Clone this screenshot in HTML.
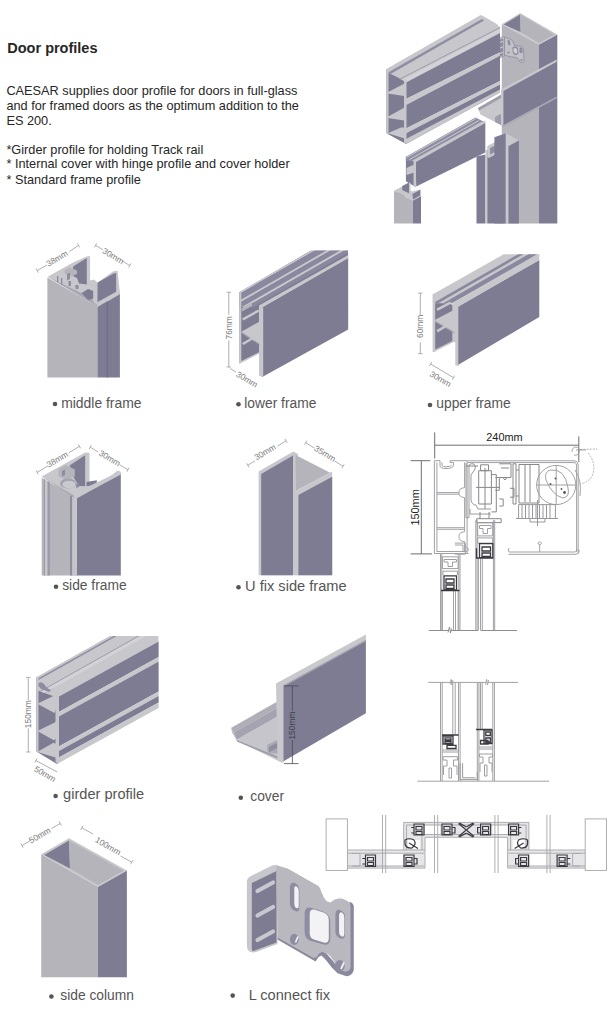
<!DOCTYPE html>
<html><head><meta charset="utf-8">
<style>
html,body{margin:0;padding:0;background:#fff;}
body{width:612px;height:1024px;overflow:hidden;position:relative;}
svg{position:absolute;left:0;top:0;}
</style></head>
<body>
<svg width="612" height="1024" viewBox="0 0 612 1024" font-family="Liberation Sans, sans-serif">
<rect width="612" height="1024" fill="#ffffff"/>
<!-- TEXT -->
<g fill="#262626">
<text transform="translate(7.3,53.1) scale(1,1.04)" font-size="14.5" font-weight="bold">Door profiles</text>
<g font-size="12.75">
<text transform="translate(6.4,95.3) scale(1,1.05)">CAESAR supplies door profile for doors in full-glass</text>
<text transform="translate(6.4,109.8) scale(1,1.05)">and for framed doors as the optimum addition to the</text>
<text transform="translate(6.4,124.5) scale(1,1.05)">ES 200.</text>
<text transform="translate(6.4,153.6) scale(1,1.05)">*Girder profile for holding Track rail</text>
<text transform="translate(6.4,168.3) scale(1,1.05)">* Internal cover with hinge profile and cover holder</text>
<text transform="translate(6.4,184.4) scale(1,1.05)">* Standard frame profile</text>
</g>
</g>
<g fill="#555" font-size="13.8">
<circle cx="55" cy="404" r="2.3"/><text x="61.2" y="407.8" font-size="13.9">middle frame</text>
<circle cx="238.5" cy="404.3" r="2.3"/><text x="244.3" y="408">lower frame</text>
<circle cx="430" cy="405" r="2.3"/><text x="436.3" y="408">upper frame</text>
<circle cx="56" cy="586.8" r="2.3"/><text x="62.2" y="590.3">side frame</text>
<circle cx="238.5" cy="587.3" r="2.3"/><text x="245" y="591" font-size="14.65">U fix side frame</text>
<circle cx="55.6" cy="796" r="2.3"/><text x="63.1" y="799.2" font-size="14.6">girder profile</text>
<circle cx="240.8" cy="797.8" r="2.3"/><text x="250.3" y="801.2">cover</text>
<circle cx="51.4" cy="996.5" r="2.3"/><text x="60.3" y="999.5">side column</text>
<circle cx="232.7" cy="995.6" r="2.3"/><text x="248.7" y="999.5" font-size="14.6">L connect fix</text>
</g>
<!-- ILLUSTRATIONS -->
<defs>
<style>
.D{fill:#7e7c93}.L{fill:#b5b4ba}.R{fill:#c8c7cc}.E{fill:#a09fab}
.dim{stroke:#9a9a9a;stroke-width:0.8;fill:none}
.dt{fill:#7a7a7a;font-size:8.4px}
</style>
</defs>

<!-- section drawing 3 -->
<g id="sec3" fill="none" stroke="#a6a6aa" stroke-width="0.9">
<g>
<path fill="#e6e6e9" stroke="none" d="M347.4,850 L425,850 L425,868.1 L347.4,868.1 Z M403.7,822.4 L466.3,822.4 L466.3,837.3 L425,837.3 L425,850 L403.7,850 Z"/>
<path fill="#fff" stroke="none" d="M385,853.5 L403,853.5 L403,866 L385,866 Z M408,840 L420,840 L420,849 L408,849 Z M425,825 L440,825 L440,835 L425,835 Z"/>
<rect x="326.1" y="818.9" width="21.3" height="51.5"/>
<path d="M347.4,850 L425,850 L425,868.1 L347.4,868.1 M347.4,853.2 L424,853.2 M347.4,866 L424,866 M382.5,815 L382.5,873 M385.7,815 L385.7,873 M434.5,815 L434.5,873 M437.7,815 L437.7,873"/>
<path d="M403.7,850 L403.7,822.4 L466.3,822.4 M406.5,850 L406.5,825 L466.3,825 M425,850 L425,837.3 L466.3,837.3 M422,850 L422,834.5 L466.3,834.5"/>
<path d="M352,853.5 L360,853.5 L360,866 L352,866"/>
<g stroke="#3a3a40" stroke-width="1.2">
<path d="M405,840 Q409,837.5 414,840 Q417,844 412,848 Q406,848.5 405,844 Z M409,843 L418,848.5"/>
<path d="M365.5,855 L375.5,855 L375.5,866.5 L365.5,866.5 Z M367.5,857.5 L373.5,857.5 L373.5,861 L367.5,861 Z M367.5,862.5 L373.5,862.5 L373.5,865.5 L367.5,865.5 Z M362.3,858.5 L365.5,858.5 L365.5,864 L362.3,864"/>
<path d="M404,855 L414,855 L414,866.5 L404,866.5 Z M406,857.5 L412,857.5 L412,861 L406,861 Z M406,862.5 L412,862.5 L412,865.5 L406,865.5 Z M414,858.5 L417,858.5 L417,864 L414,864"/>
<path d="M414,824 L424,824 L424,835 L414,835 Z M416,826.5 L422,826.5 L422,830 L416,830 Z M416,831.5 L422,831.5 L422,834.5 L416,834.5 Z M411.2,827.5 L414,827.5 L414,833 L411.2,833"/>
<path d="M442,824 L452,824 L452,835 L442,835 Z M444,826.5 L450,826.5 L450,830 L444,830 Z M444,831.5 L450,831.5 L450,834.5 L444,834.5 Z M452,827.5 L455,827.5 L455,833 L452,833"/>
<path d="M458.5,823.5 L466.3,830 L458.5,836.5 M459.5,823 L466.3,827 M459.5,837 L466.3,833"/>
</g>
</g>
<g transform="translate(932.6,0) scale(-1,1)">
<path fill="#e6e6e9" stroke="none" d="M347.4,850 L425,850 L425,868.1 L347.4,868.1 Z M403.7,822.4 L466.3,822.4 L466.3,837.3 L425,837.3 L425,850 L403.7,850 Z"/>
<path fill="#fff" stroke="none" d="M385,853.5 L403,853.5 L403,866 L385,866 Z M408,840 L420,840 L420,849 L408,849 Z M425,825 L440,825 L440,835 L425,835 Z"/>
<rect x="326.1" y="818.9" width="21.3" height="51.5"/>
<path d="M347.4,850 L425,850 L425,868.1 L347.4,868.1 M347.4,853.2 L424,853.2 M347.4,866 L424,866 M382.5,815 L382.5,873 M385.7,815 L385.7,873 M434.5,815 L434.5,873 M437.7,815 L437.7,873"/>
<path d="M403.7,850 L403.7,822.4 L466.3,822.4 M406.5,850 L406.5,825 L466.3,825 M425,850 L425,837.3 L466.3,837.3 M422,850 L422,834.5 L466.3,834.5"/>
<path d="M352,853.5 L360,853.5 L360,866 L352,866"/>
<g stroke="#3a3a40" stroke-width="1.2">
<path d="M405,840 Q409,837.5 414,840 Q417,844 412,848 Q406,848.5 405,844 Z M409,843 L418,848.5"/>
<path d="M365.5,855 L375.5,855 L375.5,866.5 L365.5,866.5 Z M367.5,857.5 L373.5,857.5 L373.5,861 L367.5,861 Z M367.5,862.5 L373.5,862.5 L373.5,865.5 L367.5,865.5 Z M362.3,858.5 L365.5,858.5 L365.5,864 L362.3,864"/>
<path d="M404,855 L414,855 L414,866.5 L404,866.5 Z M406,857.5 L412,857.5 L412,861 L406,861 Z M406,862.5 L412,862.5 L412,865.5 L406,865.5 Z M414,858.5 L417,858.5 L417,864 L414,864"/>
<path d="M414,824 L424,824 L424,835 L414,835 Z M416,826.5 L422,826.5 L422,830 L416,830 Z M416,831.5 L422,831.5 L422,834.5 L416,834.5 Z M411.2,827.5 L414,827.5 L414,833 L411.2,833"/>
<path d="M442,824 L452,824 L452,835 L442,835 Z M444,826.5 L450,826.5 L450,830 L444,830 Z M444,831.5 L450,831.5 L450,834.5 L444,834.5 Z M452,827.5 L455,827.5 L455,833 L452,833"/>
<path d="M458.5,823.5 L466.3,830 L458.5,836.5 M459.5,823 L466.3,827 M459.5,837 L466.3,833"/>
</g>
</g>
</g>
<!-- top right assembly -->
<g id="assembly">
<!-- column -->
<polygon class="L" points="501.8,24.2 539,44.4 539,223.4 501.8,223.4"/>
<polygon class="D" points="539,44.4 557.3,34.6 557.3,223.4 539,223.4"/>
<polygon class="R" points="501.8,24.2 520.1,13.1 557.3,34.6 539,44.4"/>
<polygon class="D" points="503.7,24.6 520.1,14.6 520.7,32"/>
<polygon class="L" points="520.1,14.6 554.5,34.6 539,43 520.7,32"/>
<!-- connect fix on column -->
<path fill="#c4c3c9" stroke="#8e8ca0" stroke-width="0.7" d="M497.5,39 L503.5,36.5 L504.5,38 L504.5,56 L498.5,58 L497.5,57 Z"/>
<path fill="#8e8ca0" d="M499,40 L503.3,38.3 L503.3,55.3 L499,57 Z"/>
<g stroke="#c9c8ce" stroke-width="1.3" stroke-linecap="round"><path d="M500,42.5 L502.5,41.5 M500,48 L502.5,47 M500,53.5 L502.5,52.5"/></g>
<path fill="#c2c1c7" stroke="#8e8ca0" stroke-width="0.8" d="M504.5,37 L511,39.5 Q513,40.5 513.5,43 L514.5,45.5 L521,46.5 Q523.5,47.5 523.5,50 L524,60 Q524,63.5 521,62.5 Q519,61.5 518.5,59 L516,57.5 L513,57 L511,57 L504.5,55 Z"/>
<path fill="#8e8ca0" d="M507.5,40.5 Q509,39.5 510,41 L510.5,44.5 Q509.5,46 508,44.5 Z M512.5,47.5 Q515,45.5 518,48 L518.5,53 Q517.5,56 514,54.5 L512.5,52 Z M519.5,48 Q521,47 522.5,48.5 L522.5,52.5 Q521,53.5 519.5,52.5 Z"/>
<path fill="#d0cfd4" d="M513.5,48.5 Q515,47.3 517,49 L517.3,52.5 Q516.5,54 514.5,53 L513.5,51.5 Z"/>
<circle cx="508.5" cy="52.5" r="1.1" fill="#8e8ca0"/><circle cx="521.5" cy="60" r="1.1" fill="#8e8ca0"/>
<!-- girder top-right -->
<polygon class="D" points="386.4,69.1 406,79.4 406,144.1 386.4,133.3"/>
<polygon class="R" points="386.4,69.1 480.7,15 484,16.5 496.7,24 500,27.2 500,32.9 406,82.4 397,77 386.4,72"/>
<polygon fill="#8f8da2" points="388,72.5 482,19 484,20.5 390,74.2"/>
<polygon fill="#d3d2d7" points="403,79.5 500,29 500,32 406,82.4"/>
<path d="M400,79 L500,27.5" stroke="#9896a6" stroke-width="0.9" fill="none"/>
<polygon class="D" points="406,82.4 500,32.9 500,52.3 406,99"/>
<polygon class="R" points="406,99 500,52.3 500,55.8 406,104.9"/>
<polygon class="D" points="406,104.9 500,55.8 500,80.9 406,128.4"/>
<polygon class="R" points="406,128.4 500,80.9 500,84.4 406,133.3"/>
<polygon class="D" points="406,133.3 500,84.4 500,92.4 406,144.1"/>
<polygon class="R" points="406,139 500,89.5 500,92.4 406,144.1"/>

<polygon class="R" points="404,79.4 406.5,79.4 406.5,144.1 404,142.5"/>
<polygon class="R" points="387.8,92.2 404,83.8 404,96 387.8,93.5"/>
<polygon class="R" points="387.8,116.7 404,107.8 404,120.6 387.8,118"/>
<polygon class="R" points="387.8,133.3 401,127.5 404,127.5 404,138.2"/>
<polygon class="R" points="386.4,69.1 388.5,69.5 388.5,134.3 386.4,133.3"/>
<!-- cover plate and tray -->
<polygon class="R" points="478,107.9 501,94.8 502.6,96 502.6,125.8 480.5,114.4"/>
<polygon fill="#9e9daa" points="478,107.9 501,94.8 501,98 479,110.5"/>
<polygon fill="#9e9daa" points="495,117 502.6,113 502.6,125.8 495,122"/>
<polygon class="D" points="502.6,90.5 556.7,61.1 556.7,96.4 502.6,125.8"/>
<polygon class="R" points="501,89.5 556.7,59.5 556.7,61.8 503.4,91 503.4,125.8 501,124.5"/>
<polygon fill="#a9a8b3" points="502.6,125.8 556.7,96.4 556.7,98.2 502.6,127.6"/>
<!-- lower frame piece -->
<polygon class="D" points="405.9,156.7 415.7,159.6 415.7,187 405.9,181.2"/>
<polygon fill="#8f8da2" points="405.9,156.7 475.5,117.5 485.3,122.4 415.7,161.5 405.9,161"/>
<path d="M406.5,157.5 L476,118.5 M409.5,159.5 L479,120.5 M412.5,161 L482,122" stroke="#cbcad0" stroke-width="1" fill="none"/>
<polygon class="D" points="415.7,161.5 485.3,122.4 485.3,152.6 416.2,186.5"/>
<polygon class="R" points="413.5,160.5 485.3,120.5 485.3,123 416,162 416,187.5 413.5,186"/>
<polygon class="R" points="406.5,168 413,165 416,167 416,172 406.5,175"/>
<!-- middle frame small piece -->
<polygon class="L" points="394,190.8 412.8,200.6 412.8,223.4 394,223.4"/>
<polygon class="D" points="412.8,200.6 421,196.1 421,223.4 412.8,223.4"/>
<polygon class="R" points="394,190.8 402.2,186.5 410,190 412,191.5 421,189.2 421,196.1 412.8,200.6"/>
<polygon class="D" points="402.2,186 409,182.5 410,183.5 410,193.7 402.2,190"/>
<polygon class="R" points="409,182.5 410.5,182.8 410.5,194 409,193.5"/>
<polygon class="D" points="412.5,194 420,190 420,195.5 413,199.5"/>
<polygon fill="#a9a8b3" points="397,192 404,195.5 404,196.5 397,193"/>
<!-- right vertical pieces -->
<polygon class="D" points="476.5,156.5 485.5,154.5 485.5,223.4 476.5,223.4"/>
<polygon class="R" points="485.5,150 487.3,149.5 487.3,223.4 485.5,223.4"/>
<polygon class="D" points="487.3,150 502.6,144 502.6,223.4 487.3,223.4"/>
<polygon class="R" points="487.3,146 497,141 500,143 500,152 489,158 487.3,157"/>
<polygon fill="#8e8ca0" points="490,148 495,145.5 495,152 490,154.5"/>
<polygon class="D" points="494.4,137.3 505.8,133.2 505.8,223.4 494.4,223.4"/>
<polygon class="R" points="505.8,133.2 518.9,140.6 508.3,146.3 505.8,145"/>
<polygon class="D" points="508.3,146.3 518.9,140.6 518.9,223.4 508.3,223.4"/>
<polygon class="R" points="505.8,145 508.3,146.3 508.3,223.4 505.8,223.4"/>
</g>

<!-- section drawing 1 -->
<g id="sec1" fill="none" stroke="#a2a2a6" stroke-width="1">
<path stroke="#6e6e72" stroke-width="1" d="M434.7,432.4 L434.7,458.5 M434.7,445.2 L578.8,445.2 M578.8,436.4 L578.8,462 M421.3,460.7 L421.3,553.9 M410.7,460.7 L430.3,460.7 M410.7,553.9 L432,553.9"/>
<!-- left profile -->
<path d="M434.4,460.7 L434.4,553.5 L468.5,553.5 M436.9,462.4 L436.9,551.5 L466,551.5 M434.4,460.7 L440,460.7 L440,466 Q440.5,468.5 446,468.5 Q453.5,468.5 453.5,465 L453.5,462.5 L450,462.5 L450,460.7 L467.1,460.7 L467.1,553.5 M442,462.4 L442,465.5 Q443,466.8 446,466.8 Q451,466.8 451.5,465 M464.6,462.4 L464.6,487.7 Q458.9,488 458.9,492.6 Q459,497.5 464.6,497.5 L464.6,531.8 Q458.9,532 458.9,536.7 Q459,541.6 464.6,541.6 L464.6,551.5 M436.9,492.6 L458.9,492.6 M436.9,494.2 L459,494.2 M436.9,527.7 L464.6,527.7 M436.9,529.3 L464.6,529.3 M455,545 L463,545 L463,551.5"/>
<!-- header box -->
<path d="M467.5,460.8 L575,460.8 Q578.2,461.5 578.2,465 L578.2,553.5 M467.5,462.6 L575,462.6 Q576.6,463 576.6,466 L576.6,552 M509,552 L575,552 Q577.2,551.5 577.2,549 M508.5,554.3 L576,554.3 Q579.4,554 579.4,550 M509,552 Q507.5,550 509,548 M539.7,544.5 L539.7,552 M537.8,543.5 Q539.7,540 541.6,543.5 Q539.7,546 537.8,543.5"/>
<path stroke="#9a9a9e" d="M466,463 L466,517.7 L469,517.7 L469,465 Q471,463 474,464 Q477,468 473,472 L471,475 L471,500 Q472,505 476,505 L478,509 L491,509 M470,509 L470,514 L491,514"/>
<!-- carriage -->
<path stroke="#88888c" d="M478.7,470.7 L491.4,470.7 L491.4,504 L478.7,504 Z M480.6,464.8 L488.5,464.8 L488.5,470.7 L480.6,470.7 Z M485,468 L485,509 M476,487.4 L500,487.4 M491.4,474.6 L496.3,474.6 L496.3,511.9 L491.4,511.9 M495.3,477.5 L499.3,477.5 L499.3,490.3 L495.3,490.3 M499.3,499 L503.2,499 L503.2,506 L499.3,506 M476.7,518.7 L501.2,518.7 L501.2,522.6 L476.7,522.6 Z M480,512 L480,518.7 M489,512 L489,518.7 M499.3,463.8 L511,463.8 L511,477.5 L499.3,477.5 M501,468 L509,468 M503,477.5 L505,480 L507,477.5 M513,463.8 L516,463.8 L516,504 L513,504 Z M510,488.3 L514,488.3 L514,497.2 L510,497.2 M466,466 L478,466"/>
<path stroke="#88888c" d="M519,464.5 L539,464.5 L539,503 L519,503 Z M525,465 L525,502 M530,465 L530,502 M516,470 L519,470 M516,496 L519,496"/>
<circle cx="556.2" cy="485" r="19.6"/>
<path d="M550,470 Q565,468 568,488 Q570,497 563,498 Q552,495 546,480 Q544,472 550,470 Z M536.6,485 L575.8,485 M556.2,465.4 L556.2,504.6 M575,470 Q582,480 580,496"/>
<path stroke="#98989c" d="M518.6,504.6 L555.4,504.6 L555.4,518.5 L518.6,518.5 Z M522,504.6 L522,518.5 M525.5,504.6 L525.5,518.5 M529,504.6 L529,518.5 M532.5,504.6 L532.5,518.5 M536,504.6 L536,518.5 M539.5,504.6 L539.5,518.5 M543,504.6 L543,518.5 M546.5,504.6 L546.5,518.5 M550,504.6 L550,518.5 M516,518.5 L558,518.5 M530,518.5 L530,522 L545,522 L545,518.5 M537.5,500 L537.5,526"/>
<g fill="#58585c" stroke="none"><circle cx="555.5" cy="478.5" r="1"/><circle cx="550.5" cy="484" r="1"/><circle cx="561.5" cy="489" r="0.9"/><circle cx="564.5" cy="492.5" r="1.4"/></g>
<path stroke="#a0a0a4" stroke-dasharray="2,1.2" stroke-width="0.8" d="M580,449.5 L597,449 M588,453 Q596,462 593,474 Q590,482 580,484"/><path stroke="#909094" stroke-width="0.8" d="M572,452 Q572,447 576,447 Q580,448 579,452 Q578,456 574,455 M576,450 L586,450"/>
<!-- glass channels -->
<path d="M440.5,554.2 L440.5,630 M441.8,554.2 L441.8,630 M458.8,554.2 L458.8,630 M460,554.2 L460,630 M442.4,590.8 L442.4,630 M453.5,590.8 L453.5,630 M455.5,590.8 L455.5,630 M458.1,590.8 L458.1,630"/>
<path stroke="#9e9ea2" d="M442.4,556.8 L458.1,556.8 L458.1,568.6 L442.4,568.6 Z M444,559.5 L456.5,559.5 L456.5,562 L452.5,562 L452.5,566.5 L448,566.5 L448,562 L444,562 Z M443,571.2 L457.5,571.2 L457.5,575 M443,575 L443,571.2"/>
<path d="M475.8,520.2 L475.8,630.5 M477.1,520.2 L477.1,630.5 M493.4,520.2 L493.4,630.5 M494.7,520.2 L494.7,630.5 M478.4,558.1 L478.4,630.5 M480.5,558.1 L480.5,630.5 M482.3,558.1 L482.3,630.5"/>
<path stroke="#9e9ea2" d="M477.7,522.8 L492.7,522.8 L492.7,535.9 L477.7,535.9 Z M479.5,525.5 L491,525.5 L491,528.5 L487.5,528.5 L487.5,533.5 L483,533.5 L483,528.5 L479.5,528.5 Z M477.7,537.9 L492.7,537.9 L492.7,543.1 L477.7,543.1 Z"/>
<path d="M428.8,630.5 L448,630.5 M451,630.5 L478,630.5 M481,630.5 L517,630.5 M448,632.5 L449.5,627 L450.5,633 L451.5,628.5" stroke="#8e8e92"/>
<g fill="none" stroke="#3a3a40" stroke-width="1.3">
<path d="M444,575.8 L456.5,575.8 L456.5,589.8 L444,589.8 Z M446,579 L454,579 L454,583 L446,583 Z M446,585 L454,585 L454,588.5 L446,588.5 Z M441,590.5 L459.5,590.5"/>
<path d="M479.5,543.6 L492.8,543.6 L492.8,557.6 L479.5,557.6 Z M482,547 L490.5,547 L490.5,551 L482,551 Z M482,553 L490.5,553 L490.5,556.5 L482,556.5 Z M476.5,548.3 L476.5,558 L493.5,558"/>
</g>
<path d="M454.8,543.1 L465.3,543.1 L465.3,554.2 L454.8,554.2 M465.3,546 L469,549.5 L465.3,552"/>
</g>
<text x="486.3" y="441.2" font-size="10.9" fill="#222">240mm</text>
<text transform="translate(419,525.6) rotate(-90)" font-size="10.9" fill="#222">150mm</text>
<!-- section drawing 2 -->
<g id="sec2" fill="none" stroke="#a2a2a6" stroke-width="1">
<path d="M428.3,682.4 L450,682.4 M452.5,682.4 L485.5,682.4 M488,682.4 L518.1,682.4 M450,684.5 L451.2,679.5 L452,685 L453,680 M485.5,684.5 L486.6,679.5 L487.5,685 L488.5,680 M417.3,781.2 L549,781.2"/>
<path d="M440.5,682.4 L440.5,781 M442.2,682.4 L442.2,781 M458.5,682.4 L458.5,781 M460.1,682.4 L460.1,781 M452.8,682.4 L452.8,734.6 M455.2,682.4 L455.2,734.6"/>
<path d="M477.3,682.4 L477.3,781 M478.9,682.4 L478.9,781 M492.8,682.4 L492.8,781 M494.4,682.4 L494.4,781 M480.5,682.4 L480.5,728.9 M482.2,682.4 L482.2,728.9"/>
<path stroke="#9e9ea2" d="M442.2,750 L458.5,750 M442.2,752 L458.5,752 M443,756.7 L457.5,756.7 L457.5,760 L453.5,760 L453.5,766 L457,766 L457,775 M443,756.7 L443,760 L447,760 L447,766 L443.5,766 L443.5,775 M449,768 L451.5,768 L451.5,778 L449,778 Z"/>
<path stroke="#9e9ea2" d="M478.9,747 L492.8,747 M478.9,749 L492.8,749 M479.5,754 L492.5,754 L492.5,757 L489,757 L489,763 L492,763 L492,772 M479.5,754 L479.5,757 L483,757 L483,763 L480,763 L480,772 M484.5,765 L487,765 L487,776 L484.5,776 Z"/>
<path stroke="#98989c" d="M460.1,763.2 L460.1,779.6 L477.3,779.6 L477.3,772 M462.6,763.2 L462.6,777.8 L475.5,777.8"/>
<g stroke="#3a3a40" stroke-width="1.3">
<path d="M442,735 L458.5,735 M443,736 L453,736 L453,744 L443,744 Z M445,737.8 L451,737.8 L451,740 L445,740 Z M445,741.5 L451,741.5 L451,743.5 L445,743.5 Z M447,745.3 L456,745.3 L456,748.5 L447,748.5 Z"/>
<path d="M476,729.5 L492,729.5 M484,730 L492,730 L492,743.5 L484,743.5 Z M485.8,732 L490.3,732 L490.3,735.5 L485.8,735.5 Z M485.8,738 L490.3,738 L490.3,742 L485.8,742 Z M480.5,740.5 L488,740.5 L488,744 L480.5,744 Z"/>
</g>
</g>
<!-- L connect fix -->
<g id="lfix">
<path class="R" d="M246.9,881 Q247,878 250,876.5 L272,865.5 Q275,864.5 277.5,866 L277.5,944 L256,952 Q250,953.5 248,950 Q246.9,948 246.9,945 Z"/>
<path class="D" d="M251.8,883 L276.5,871 L276.5,942.4 L253.5,951 Q251.8,951.5 251.8,949 Z"/>
<g stroke="#c9c8ce" stroke-width="4.2" stroke-linecap="round"><path d="M257.5,891 L273,882.5 M257.5,915.5 L273,907 M257.5,940 L273,931.5"/></g>
<path fill="#8a889c" d="M277.4,939.4 L315.6,961.5 L318.5,957.1 L321.5,955.6 L325.9,960 L331.8,967.4 L337.6,973.2 L346.5,976.2 Q352,976 353.8,970 L353.8,906 Q352.5,902 349.4,902 L350,968 Q348,972 344,971 L338,968 L333,961 L326,953 L321,951 L317,955 L278,935 Z M321.5,892.4 Q323,898 326,901 L330.3,904.1 L327,906 Q322,903 320,896 Z"/>
<path fill="#b9b8bf" d="M275.9,865.1 L287.6,868.5 L318.5,886 Q321,889 321.5,892.4 Q323,898 327,901.5 L330.3,902.5 L334.7,899.5 Q338,898 342,898.5 L347.5,901 Q350.5,903 350.5,907 L350.5,967 Q349.5,972.5 344,971 Q339,969.5 336.5,965 L332,958.5 Q327,951.5 322,952 Q318,953 317,957 L313.5,958 L277.5,937.5 L276.3,866 Z"/>
<path fill="#8e8ca0" d="M289.9,886 Q291,881.5 295,883 Q299,885 299.4,890 L299.4,908 Q299,912.5 295,911 Q290.5,909 289.9,904 Z"/>
<path fill="#f3f3f5" d="M294.3,887.5 Q295.5,885.5 297.3,887 Q298.7,888.5 298.7,891 L298.7,906.5 Q298.3,909 296.5,908 Q294.3,907 294.3,904 Z"/>
<path fill="#8e8ca0" d="M304.6,913 Q305,907 310,907.5 L323,911.5 Q329.5,914 330.3,921 L330.3,939 Q330,945.5 324,944.5 L311,941 Q304.6,938.5 304.6,932 Z"/>
<path fill="#f3f3f5" d="M309.7,913.5 Q310,909 314,909.5 L323.5,912.5 Q328.8,914.5 328.8,920 L328.8,938.5 Q328.5,943.8 323.5,942.5 L314,939.5 Q309.7,938 309.7,933 Z"/>
<path fill="#8e8ca0" d="M335.4,914 Q336,908.5 340,910 Q345,912 345,917 L345,935 Q344.5,940 340.5,938.5 Q335.4,936.5 335.4,931.5 Z"/>
<path fill="#f3f3f5" d="M339.1,914.5 Q340,911.5 342,912.5 Q344.3,914 344.3,917 L344.3,934.5 Q344,937.2 342,936.5 Q339.1,935.5 339.1,932 Z"/>
<ellipse cx="294.3" cy="939.4" rx="4.4" ry="5.6" fill="#8e8ca0"/><path d="M295.5,942.5 L298,936.5" stroke="#f3f3f5" stroke-width="1.6"/>
<ellipse cx="339.8" cy="965.9" rx="5" ry="5.8" fill="#8e8ca0"/><path d="M341,969 L344,962.5" stroke="#f3f3f5" stroke-width="1.8"/>
</g>

<!-- cover -->
<g id="cover">
<polygon class="R" points="231.4,727.7 277,701.8 281.4,702 281.4,762.4 236.8,740.5 232,733"/>
<polygon fill="#b9b8bf" points="231.4,727.7 277,701.8 279,703 279,707 234,732.5 232,731"/>
<path d="M232.5,729 L278,703.2 M233.5,731 L278.5,705.3" stroke="#9a99a6" stroke-width="0.7" fill="none"/>
<polygon fill="#a4a3af" points="234,732.5 279,707 279,715.5 236.8,739.5"/>
<polygon fill="#c6c5cb" points="236.8,739.5 279,715.5 281.4,716 281.4,758.6 236.8,740.8"/>
<polygon fill="#9c9ba8" points="236.8,740.2 281.4,758 281.4,760 236.8,741.5"/>
<polygon fill="#a9a8b3" points="267.2,745 277,740 279.5,741 279.5,753.7 269,753 267.2,751"/>
<polygon fill="#8e8ca0" points="269,747 277.5,742.5 277.5,748 269,752"/>
<g fill="#8e8ca0"><circle cx="278.5" cy="726" r="1"/><circle cx="278.5" cy="731" r="1"/><circle cx="278.5" cy="736" r="1"/><circle cx="278.5" cy="689" r="1"/><circle cx="278.5" cy="694" r="1"/></g>
<polygon class="D" points="281.4,685 365.9,639 365.9,713.3 281.4,762.4"/>
<polygon fill="#c9c8cd" points="276,683.5 365.9,634.5 365.9,640 283.5,685.5 283.5,763 277.5,760"/><polygon fill="#a9a8b3" points="283.5,685.5 365.9,640 365.9,641.2 283.5,686.8"/>
<g stroke="#4a4a55" stroke-width="0.8" fill="none"><path d="M292.4,685.9 L292.4,710.9 M292.4,740.3 L292.4,763.6 M284,685.9 L298.5,685.9 M284,763.6 L298.5,763.6"/></g>
<text fill="#3c3c48" font-size="8.4" transform="translate(295.2,725.6) rotate(-90)" text-anchor="middle">150mm</text>
</g>

<!-- girder profile -->
<g id="girder">
<polygon class="D" points="36.3,677.1 57,689 57,764 36.3,751.4"/>
<clipPath id="gtclip"><polygon points="36.3,677.1 109.5,635.9 158.6,635.9 158.6,641.6 57,697.5 36.3,690"/></clipPath>
<g clip-path="url(#gtclip)">
<polygon class="R" points="36.3,677.1 158.6,608.2 158.6,628.6 36.3,697.5"/>
<polygon class="R" points="36.3,697.5 158.6,628.6 158.6,651.1 36.3,720"/>
<polygon fill="#8f8da2" points="36.3,679.6 158.6,610.7 158.6,612.4 36.3,681.3"/>
<polygon fill="#9896a6" points="36.3,693.2 158.6,624.3 158.6,625.4 36.3,694.3"/>
<polygon fill="#d3d2d7" points="36.3,694.3 158.6,625.4 158.6,628.6 36.3,697.5"/>
</g>
<polygon class="D" points="57,697.5 158.6,641.6 158.6,657.1 57,713"/>
<polygon class="R" points="57,713 158.6,657.1 158.6,661.6 57,717.5"/>
<polygon class="D" points="57,717.5 158.6,661.6 158.6,691.6 57,747.5"/>
<polygon class="R" points="57,747.5 158.6,691.6 158.6,696.1 57,752"/>
<polygon class="D" points="57,752 158.6,696.1 158.6,702.6 57,758.5"/>
<polygon class="R" points="57,758.5 158.6,702.6 158.6,708.1 57,764"/>
<polygon class="R" points="55.5,692 59,692 59,764 55.5,762"/>
<polygon class="R" points="37.3,703.7 56.3,694.4 56.3,709 54.4,712.9"/>
<polygon class="R" points="37.3,731 56.3,721.7 56.3,738 53.9,740.2"/>
<polygon class="R" points="37.3,752 53.4,742.7 56.3,744 56.3,757.8"/>
<polygon class="R" points="36.3,677.1 38.5,678 38.5,752.5 36.3,751.4"/>
<path fill="#8e8ca0" d="M38.5,683 Q41,681 44,684 L47,688 L51,690 L49,692 L44,690 Q40,689 38.5,686 Z"/>
<g class="dim"><path d="M28.3,677.4 L28.3,700 M28.3,728.3 L28.3,752 M26.1,677.4 L30.5,677.4 M26.1,752 L30.5,752"/></g>
<text class="dt" transform="translate(31.3,714.2) rotate(-90)" text-anchor="middle">150mm</text>
<g class="dim"><path d="M35.9,760.5 L57.2,772 M34.8,762.5 L37,758.5"/></g>
<text class="dt" transform="translate(43.5,776.5) rotate(30)" text-anchor="middle">50mm</text>
</g>

<!-- lower frame -->
<g id="lowerframe">
<polygon class="D" points="239.4,292 262.2,305 262.2,352 260.3,352.3 239.4,363"/>
<clipPath id="lfclip"><polygon points="239.4,292 310.5,250.5 348.2,250.5 348.2,258 262.2,306.9 239.4,306.9"/></clipPath>
<g clip-path="url(#lfclip)"><polygon class="D" points="239.4,292 310.5,250.5 348.2,250.5 348.2,258 262.2,306.9 239.4,306.9"/>
<polygon class="R" points="239.4,291.8 348.2,229.2 348.2,231.4 239.4,294.0"/>
<polygon fill="#8a889e" points="239.4,294.0 348.2,231.4 348.2,238.0 239.4,300.6"/>
<polygon class="R" points="239.4,300.6 348.2,238.0 348.2,240.4 239.4,303.0"/>
<polygon fill="#8a889e" points="239.4,303.0 348.2,240.4 348.2,245.8 239.4,308.4"/>
<polygon class="R" points="239.4,308.4 348.2,245.8 348.2,248.3 239.4,310.9"/>
<polygon fill="#8a889e" points="239.4,310.9 348.2,248.3 348.2,252.8 239.4,315.4"/></g>
<polygon class="D" points="262.2,306.9 348.2,258 348.2,329.5 262.2,377"/>
<polygon class="R" points="259,305.5 348.2,255 348.2,258 262.2,307.5 262.2,377 259,375.5"/>
<polygon class="R" points="239.3,292.3 241.3,293 241.3,363 239.3,363"/>
<polygon class="R" points="239.3,362 260.3,351.5 260.3,353 239.3,364"/>
<polygon class="R" points="241.3,331.8 260.3,321.1 260.3,344.5"/>
<polygon fill="#a9a8b3" points="241.3,331.8 260.3,344.5 260.3,345.5 241.3,333"/>
<polygon class="R" points="242,343 254.5,336 256,337.5 243.5,345"/>
<polygon class="R" points="242,318.5 258,309.5 259.5,311.5 243.5,320.5"/>
<polygon class="L" points="242,308 252,302.5 252,306 242,311.5"/>
<polygon class="R" points="260.3,308.4 263.2,307.5 263.2,376.7 260.3,375"/>
<g class="dim"><path d="M228.8,292.2 L228.8,314.7 M228.8,340.4 L228.8,367 M226.6,292.2 L231,292.2 M226.6,367 L231,367"/></g>
<text class="dt" transform="translate(231.8,327.8) rotate(-90)" text-anchor="middle">76mm</text>
<g class="dim"><path d="M230,368.5 L236,372"/></g>
<text class="dt" transform="translate(245.5,381.8) rotate(30)" text-anchor="middle">30mm</text>
</g>
<!-- upper frame -->
<g id="upperframe">
<polygon class="D" points="432.9,294.2 458,308 458,340 454.7,340.8 432.9,351.7"/>
<polygon class="R" points="432.9,294.2 503.8,254.2 539.3,254.2 539.3,256 452.3,303.3 432.9,303.3"/>
<clipPath id="ufclip"><polygon points="432.9,294.2 503.8,254.2 539.3,254.2 539.3,256 452.3,303.3 432.9,303.3"/></clipPath>
<g clip-path="url(#ufclip)"><polygon fill="#8a889e" points="432.9,303.3 539.3,242.1 539.3,245.1 432.9,306.3"/>
<polygon fill="#8a889e" points="432.9,309.2 539.3,248.0 539.3,252.9 432.9,314.1"/></g>
<polygon class="D" points="458,306.5 539.3,259.9 539.3,317 458,365.1"/>
<polygon class="R" points="452.3,303.3 539.3,255.3 539.3,259.9 458.3,306.8 458.3,366.3 455.3,365 455.3,342 452.3,342"/>
<polygon class="R" points="432.8,294.7 435.2,295.5 435.2,352 432.8,351.7"/>
<polygon class="R" points="432.8,350.7 454.7,339.8 454.7,341.5 432.8,352.5"/>
<polygon class="R" points="435.2,319.7 454.7,309.5 454.7,332.2 435.2,321.3"/>
<polygon fill="#a9a8b3" points="435.2,320.5 454.7,332.2 454.7,333.5 435.2,322"/>
<polygon class="R" points="436.5,330 447,324 448.5,326 437.5,332.5"/>
<polygon class="R" points="436.5,308.5 450,301.5 451.5,303.5 437.5,311"/>
<g class="dim"><path d="M420.3,293.2 L420.3,315.5 M420.3,342.4 L420.3,353.7 M418.1,293.2 L422.5,293.2 M418.1,353.7 L422.5,353.7"/></g>
<text class="dt" transform="translate(423.3,326.3) rotate(-90)" text-anchor="middle">60mm</text>
<g class="dim"><path d="M430.6,364 L453.5,377.7 M429.5,366 L431.7,362 M452.4,379.7 L454.6,375.7"/></g>
<text class="dt" transform="translate(439,381.5) rotate(30)" text-anchor="middle">30mm</text>
</g>

<!-- middle frame -->
<g id="midframe">
<polygon class="L" points="47.4,277.5 97.4,306.5 97.4,377.5 47.4,377.5"/>
<polygon class="D" points="97.4,306.5 119.9,292.5 119.9,377.5 97.4,377.5"/>
<polygon fill="#6f6d85" points="106.8,301 108,300.4 108,377.5 106.8,377.5"/>
<polygon class="R" points="47.6,276.8 73.1,262.4 86.8,256.5 90.1,255.9 90.1,285 97.3,282.7 113,271.5 117.5,270.5 119.9,292.5 97.4,306.5"/>
<polygon fill="#a9a8b3" points="47.6,276.8 81.6,293.1 97.4,302.5 97.4,306.5"/>
<polygon class="D" points="73.1,266.5 86.8,258 86.8,284.6 79,283.5 77,278 73.1,276"/>
<polygon class="L" points="64.6,270 70,267.5 77,270.5 77,274 71,276.5 64.6,273.5"/>
<polygon fill="#8e8ca0" points="67,274 70,272.5 70,279 67,280.5"/>
<g fill="#8e8ca0"><rect x="57" y="276" width="1.3" height="6"/><rect x="61" y="278" width="1.3" height="7"/><rect x="68.5" y="281" width="2.5" height="5"/><rect x="75.5" y="285" width="3" height="4"/></g>
<polygon class="D" points="81.6,293.1 88.1,289 93.4,291 93.4,298.4 88,300"/>
<polygon class="D" points="97.3,282.7 113.6,273.5 116.2,272.9 116.2,291.8 97.3,302.3"/>
<polygon class="R" points="93.4,286.6 97.3,285 97.3,304.9 93.4,302"/>
<polygon class="R" points="88,281 94,279.5 98,283 96,286 90,288"/>
<polygon class="R" points="97.4,304.5 106,299.5 108,298.4 118.9,291.8 119.9,292.5 119.9,294.3 108,301.3 106.8,301.5 97.4,307"/>
<g class="dim"><path d="M37.2,270.6 L47,265 M69.5,251.5 L78.5,245.4 M36.1,268.6 L38.3,272.6 M77.4,243.4 L79.6,247.4"/>
<path d="M95.6,245.4 L103,249.8 M122,260.8 L129.8,265.5 M94.5,247.4 L96.7,243.4 M128.7,267.5 L130.9,263.5"/></g>
<text class="dt" transform="translate(58.6,261) rotate(-31)" text-anchor="middle">38mm</text>
<text class="dt" transform="translate(111.8,258.5) rotate(31)" text-anchor="middle">30mm</text>
</g>
<!-- side frame -->
<g id="sideframe">
<polygon class="L" points="41.7,477.7 75.8,497.5 75.8,575.5 41.7,575.5"/>
<polygon fill="#9a99a6" points="44,479 45,479.6 45,575.5 44,575.5"/>
<polygon fill="#c9c8ce" points="45,479.6 47.6,481 47.6,575.5 45,575.5"/>
<polygon fill="#9a99a6" points="47.6,481 49.8,482.3 49.8,575.5 47.6,575.5"/>
<polygon fill="#8f8e9c" points="70,494 72.2,495.4 72.2,575.5 70,575.5"/>
<polygon fill="#c6c5cb" points="72.2,495.4 74.5,496.7 74.5,575.5 72.2,575.5"/>
<polygon class="D" points="75.8,497.5 120.8,472.4 120.8,575.5 75.8,575.5"/>
<polygon class="R" points="41.7,476.6 85.1,452.4 89.5,452.8 89.5,486.9 96.8,486.2 117.4,470.7 120.4,471.5 120.8,474 75.8,499"/>
<polygon fill="#a9a8b3" points="41.7,476.6 75.8,496.5 75.8,499"/>
<polygon class="D" points="69.6,465.6 85.1,455.3 85.1,486.2 79,486 74,478"/>
<polygon class="L" points="58.6,469 66,465 74.8,469.5 74.8,476.6 66,480 58.6,476"/>
<polygon fill="#8e8ca0" points="62,471 65,469.5 65,475 62,476.5"/>
<ellipse cx="68.1" cy="483.5" rx="8.1" ry="5.1" fill="#a3a2ae"/>
<ellipse cx="69" cy="484.6" rx="6.6" ry="3.9" fill="#cac9cf"/>
<polygon class="D" points="86.5,482 96.8,480.3 96.8,485 86.5,486.2"/>
<polygon fill="#8e8ca0" points="76,484 79,482.5 79,487 76,488"/>
<polygon class="R" points="74,493.5 119.6,471.5 120.8,472.4 120.8,474.5 77,497.5 77,575.5 74.5,575.5"/>
<g class="dim"><path d="M37.2,472.4 L48,465.8 M68.5,453 L79.4,446.3 M36.1,470.4 L38.3,474.4 M78.3,444.3 L80.5,448.3"/>
<path d="M90.2,447.2 L98,451.9 M119.5,464.8 L128,469.7 M89.1,449.2 L91.3,445.2 M126.9,471.7 L129.1,467.7"/></g>
<text class="dt" transform="translate(58.8,461.8) rotate(-31)" text-anchor="middle">38mm</text>
<text class="dt" transform="translate(108.2,460.7) rotate(31)" text-anchor="middle">30mm</text>
</g>
<!-- side column -->
<g id="sidecol">
<polygon class="L" points="41.2,854.3 98,886.7 98,977.3 41.2,977.3"/>
<polygon class="D" points="98,886.7 126.9,870.6 126.9,977.3 98,977.3"/>
<polygon class="R" points="41.2,854.3 69,838.2 126.9,870.6 98,886.7"/>
<polygon class="D" points="44.2,855 69,840.6 70,868.5"/>
<polygon class="L" points="69,840.6 123.5,870.8 98,885 70,868.5"/>
<g class="dim"><path d="M22,845.5 L31,840.3 M51.5,828.5 L60.2,823.5 M20.8,843.4 L23.2,847.6 M59,821.4 L61.4,825.6"/>
<path d="M81.8,827.8 L93,834 M120.5,856 L131.8,862.2 M80.6,829.9 L83,825.7 M130.6,864.3 L133,860.1"/></g>
<text class="dt" transform="translate(41.2,837.8) rotate(-30)" text-anchor="middle">50mm</text>
<text class="dt" transform="translate(106.6,848.6) rotate(30)" text-anchor="middle">100mm</text>
</g>
<!-- U fix side frame -->
<g id="ufix">
<polygon class="R" points="258.6,471.6 293.3,451.6 298,454 298,575.2 258.6,575.2"/>
<polygon class="D" points="261.2,474.1 293,455.5 293,575.2 261.2,575.2"/>
<polygon class="L" points="295.5,455 330.2,472.7 296,490.8"/>
<polygon class="R" points="294.9,491.5 332.2,471.5 332.2,575.2 294.9,575.2"/>
<polygon class="D" points="298.4,495 332.2,476.7 332.2,575.2 298.4,575.2"/>
<g class="dim"><path d="M247.8,465.3 L255,460.8 M277.5,446 L286,440.8 M246.7,463.3 L249,467.3 M284.9,438.8 L287.1,442.8"/>
<path d="M305.7,442.7 L314.5,448.2 M334.5,460.8 L343,466.3 M304.6,444.7 L306.8,440.7 M341.9,468.3 L344.1,464.3"/></g>
<text class="dt" transform="translate(266.6,454.6) rotate(-31)" text-anchor="middle">30mm</text>
<text class="dt" transform="translate(323.5,456) rotate(31)" text-anchor="middle">35mm</text>
</g>

</svg>
</body></html>
